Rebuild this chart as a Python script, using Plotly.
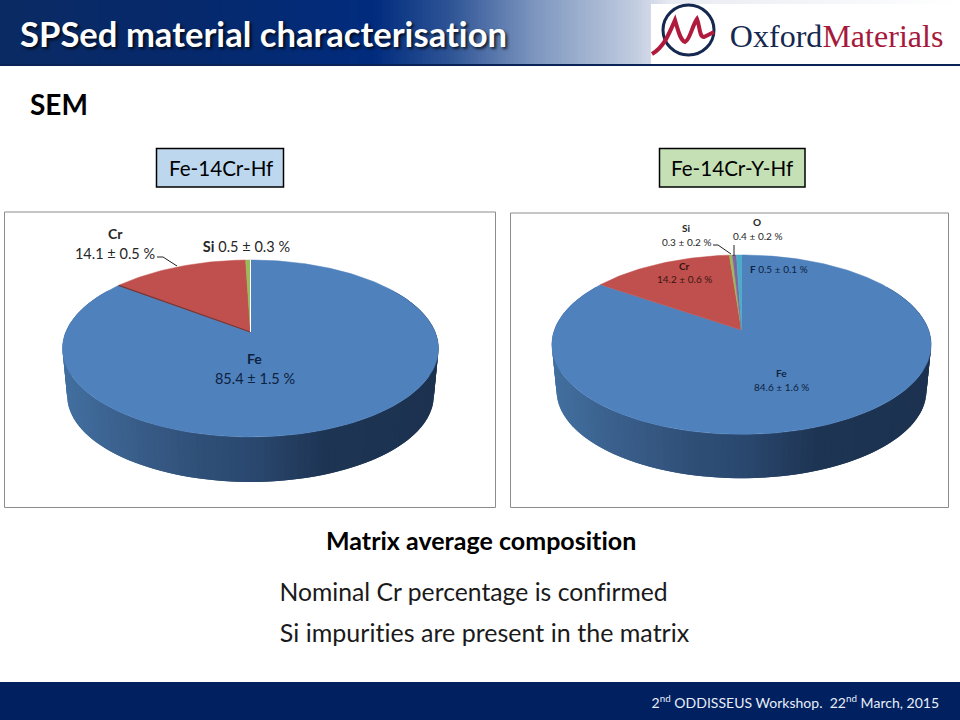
import math
import plotly.graph_objects as go

# ---- data ----
left_names = ["Fe", "Cr", "Si"]
left_values = [85.4, 14.1, 0.5]
left_colors = ["#4F81BD", "#C0504D", "#9BBB59"]
right_names = ["Fe", "Cr", "Si", "O", "F"]
right_values = [84.6, 14.2, 0.3, 0.4, 0.5]
right_colors = ["#4F81BD", "#C0504D", "#9BBB59", "#8064A2", "#4BACC6"]

# ---- pie geometry (perspective projection of a disc) ----
LEFT = dict(cx=250.5, cy=332, a=184.7, b=85.4, k=0.1864, d=47.6, s=0.975)
RIGHT = dict(cx=741.5, cy=330, a=187.1, b=87.3, k=0.1635, d=46.5, s=0.975)
WALL = [(0.0, (66, 112, 160)), (0.14, (60, 98, 143)), (0.36, (48, 80, 120)),
        (0.5, (43, 73, 112)), (0.7, (30, 53, 84)), (1.0, (28, 50, 80))]

fig = go.Figure()


def project(g, pct):
    th = 2 * math.pi * pct / 100
    X, Y = math.sin(th), math.cos(th)
    w = 1 + g["k"] * Y
    return g["cx"] + g["a"] * X / w, g["cy"] - g["b"] * Y / w


def lerp_color(t):
    for (t0, c0), (t1, c1) in zip(WALL, WALL[1:]):
        if t <= t1:
            f = (t - t0) / (t1 - t0)
            return "rgb(%d,%d,%d)" % tuple(c0[i] + (c1[i] - c0[i]) * f for i in range(3))
    return "rgb(%d,%d,%d)" % WALL[-1][1]


def draw_wall(g):
    n = 140
    start, end = 16.0, 84.0
    rim = [project(g, start + (end - start) * i / n) for i in range(n + 1)]
    xs = [p[0] for p in rim]
    lo, hi = min(xs), max(xs)
    low = [(g["cx"] + (x - g["cx"]) * g["s"], g["cy"] + g["d"] + (y - g["cy"]) * g["s"]) for x, y in rim]
    # painted from the right end to the left; every strip overlaps its neighbour to avoid seams
    for i in range(n):
        j = min(i + 2, n)
        t = (0.5 * (xs[i] + xs[i + 1]) - lo) / (hi - lo)
        c = lerp_color(t)
        px = [rim[i][0], rim[j][0], low[j][0], low[i][0], rim[i][0]]
        py = [rim[i][1], rim[j][1], low[j][1], low[i][1], rim[i][1]]
        fig.add_trace(go.Scatter(x=px, y=py, mode="lines", fill="toself", fillcolor=c,
                                 line=dict(color=c, width=0), hoverinfo="skip"))


def draw_top(g, values, colors, names):
    acc = 0.0
    for v, c, nm in zip(values, colors, names):
        steps = max(3, int(v * 3))
        arc = [project(g, acc + v * i / steps) for i in range(steps + 1)]
        px = [g["cx"]] + [p[0] for p in arc] + [g["cx"]]
        py = [g["cy"]] + [p[1] for p in arc] + [g["cy"]]
        fig.add_trace(go.Scatter(x=px, y=py, mode="lines", fill="toself", fillcolor=c, name=nm,
                                 line=dict(color=c, width=0.5), hoverinfo="skip"))
        acc += v


def edge(g, pct, color, width):
    p = project(g, pct)
    fig.add_trace(go.Scatter(x=[g["cx"], p[0]], y=[g["cy"], p[1]], mode="lines",
                             line=dict(color=color, width=width), hoverinfo="skip"))


# header gradient
grad_x = list(range(0, 961, 4))
fig.add_trace(go.Heatmap(x=grad_x, y=[16, 48], z=[grad_x, grad_x], zmin=0, zmax=960, showscale=False,
                         hoverinfo="skip",
                         colorscale=[[0, "#0A2A63"], [0.2, "#06296C"], [0.39, "#012C7E"], [0.47, "#2F5596"],
                                     [0.56, "#7F98C0"], [0.66, "#C0CBDF"], [0.7, "#E8EBF2"], [1, "#FFFFFF"]]))

draw_wall(LEFT)
draw_top(LEFT, left_values, left_colors, left_names)
edge(LEFT, left_values[0], "#7A3533", 1.2)
edge(LEFT, 0, "#FFFFFF", 1)
draw_wall(RIGHT)
draw_top(RIGHT, right_values, right_colors, right_names)

# leaders
for lx, ly in [([157, 163, 177], [257, 257, 266]), ([713, 718, 731], [245, 245, 254]), ([734, 734], [245, 256])]:
    fig.add_trace(go.Scatter(x=lx, y=ly, mode="lines", line=dict(color="#222222", width=1), hoverinfo="skip"))

SANS = "Lato, 'Open Sans', sans-serif"
texts = [
    ("<b>SPSed material characterisation</b>", 18, 33, 34.6, "#FFFFFF", "left"),
    ("<b>SEM</b>", 28, 104, 28, "#000000", "left"),
    ("Fe-14Cr-Hf", 220.5, 168, 20.6, "#000000", "center"),
    ("Fe-14Cr-Y-Hf", 732, 168, 20.6, "#000000", "center"),
    ("<b>Cr</b>", 115, 233, 14, "#262626", "center"),
    ("14.1 ± 0.5 %", 115, 253, 14.5, "#262626", "center"),
    ("<b>Si</b> 0.5 ± 0.3 %", 246, 246, 14.5, "#262626", "center"),
    ("<b>Fe</b>", 254, 358, 14, "#0D2240", "center"),
    ("85.4 ± 1.5 %", 255, 378, 14.5, "#0D2240", "center"),
    ("<b>Si</b>", 686, 228, 10, "#262626", "center"),
    ("0.3 ± 0.2 %", 686, 242, 10, "#262626", "center"),
    ("<b>O</b>", 757, 222, 10, "#262626", "center"),
    ("0.4 ± 0.2 %", 757, 236, 10, "#262626", "center"),
    ("<b>Cr</b>", 684, 266, 10, "#3A1412", "center"),
    ("14.2 ± 0.6 %", 684, 279, 10, "#3A1412", "center"),
    ("<b>F</b> 0.5 ± 0.1 %", 779, 269, 10, "#0D2240", "center"),
    ("<b>Fe</b>", 781, 373, 10, "#0D2240", "center"),
    ("84.6 ± 1.6 %", 781, 387, 10, "#0D2240", "center"),
    ("<b>Matrix average composition</b>", 481, 539.5, 25, "#000000", "center"),
    ("Nominal Cr percentage is confirmed", 278, 591.5, 24.7, "#1A1A1A", "left"),
    ("Si impurities are present in the matrix", 278, 632, 25, "#1A1A1A", "left"),
    ("2<sup>nd</sup> ODDISSEUS Workshop.  22<sup>nd</sup> March, 2015", 941, 701, 14, "#E8EEF8", "right"),
]
annotations = []
for t, x, y, size, col, anchor in texts:
    font = dict(family=SANS, size=size, color=col)
    if "SPSed" in t:
        font["shadow"] = "2px 2px 3px rgba(0,0,0,0.75)"
    annotations.append(dict(text=t, x=x, y=y, xref="x", yref="y", xanchor=anchor, yanchor="middle",
                            showarrow=False, font=font))
annotations.append(dict(text="Oxford<span style='color:#A6193A'>Materials</span>", x=728, y=36, xref="x", yref="y",
                        xanchor="left", yanchor="middle", showarrow=False,
                        font=dict(family="Liberation Serif", size=32, color="#15284F")))


def rect(x0, y0, x1, y1, fill, line=None, w=0, layer="below"):
    return dict(type="rect", x0=x0, y0=y0, x1=x1, y1=y1, xref="x", yref="y", fillcolor=fill, layer=layer,
                line=dict(color=line or fill, width=w))


shapes = [
    rect(4.5, 212, 495.5, 507.5, "#FFFFFF", "#8C8C8C", 1),
    rect(510.5, 213, 948.5, 507.5, "#FFFFFF", "#8C8C8C", 1),
    rect(0, 682, 960, 720, "#002060"),
    rect(0, 64, 960, 66, "#0A2458", layer="above"),
    rect(651, 4, 960, 64, "#FFFFFF", layer="above"),
    rect(156.5, 148.5, 283.5, 187, "#BDD7EE", "#000000", 1.5, "above"),
    rect(659.5, 148.5, 805, 187, "#C5E0B4", "#000000", 1.5, "above"),
    dict(type="circle", x0=663, y0=5, x1=714, y1=55, xref="x", yref="y", layer="above",
         line=dict(color="#15284F", width=3), fillcolor="rgba(0,0,0,0)"),
    dict(type="path", path="M 652 54 C 664 47 669 34 675 20 C 678 30 680 40 685 42 C 690 40 692 26 697 19 "
                           "C 700 26 699 37 704 37 L 714 32", xref="x", yref="y", layer="above",
         line=dict(color="#B01A3C", width=4)),
]

fig.update_layout(
    width=960, height=720, margin=dict(l=0, r=0, t=0, b=0), paper_bgcolor="#FFFFFF", plot_bgcolor="#FFFFFF",
    showlegend=False, annotations=annotations, shapes=shapes,
    xaxis=dict(range=[0, 960], visible=False, fixedrange=True),
    yaxis=dict(range=[720, 0], visible=False, fixedrange=True),
)
fig.write_html("out.html", config={"displayModeBar": False},
               post_script="document.body.style.margin='0';document.body.style.overflow='hidden';"
                           "var st=document.createElement('style');"
                           "st.textContent=\"svg text, svg tspan{font-variant-ligatures:none !important;"
                           "font-feature-settings:'liga' 0,'clig' 0 !important;letter-spacing:0.02px;}\";"
                           "document.head.appendChild(st);")
